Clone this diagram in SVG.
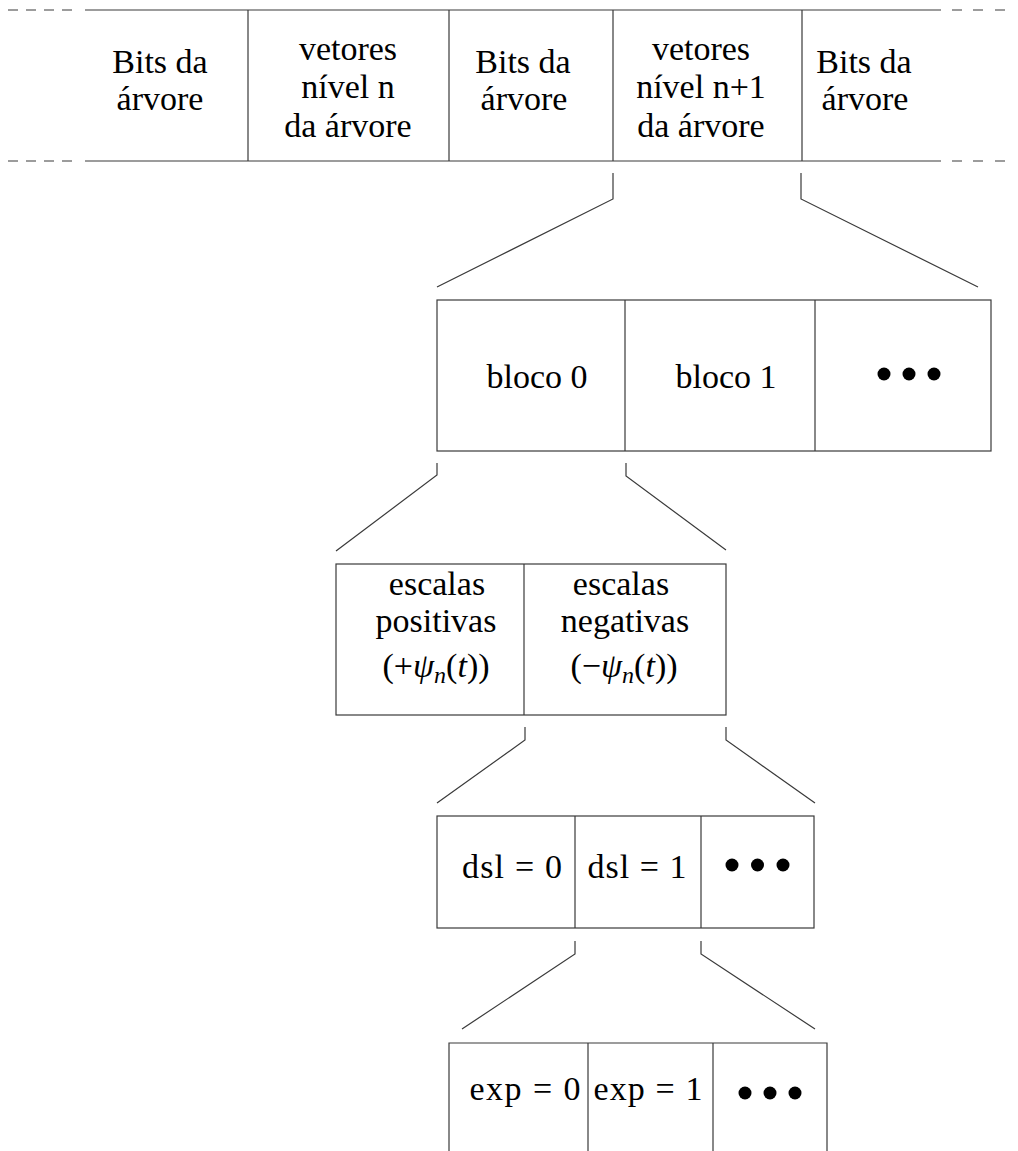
<svg xmlns="http://www.w3.org/2000/svg" width="1018" height="1151" viewBox="0 0 1018 1151">
<style>
.ln{stroke:#3a3a3a;stroke-width:1.2;fill:none}
.bx{stroke:#3a3a3a;stroke-width:1.2;fill:#fff}
.t{font-size:34px;fill:#000;text-anchor:middle}
.i{font-style:italic}
.dot{fill:#000}
</style>
<rect width="1018" height="1151" fill="#fff"/>
<g font-family="Liberation Serif, serif">
<g id="strip">
<path class="ln" d="M85,10H941M85,161H941M248,10V161M449,10V161M613,10V161M802,10V161"/>
<path class="ln" d="M8,10H18M26,10H36M44,10H54M62,10H72M8,161H18M26,161H36M44,161H54M62,161H72"/>
<path class="ln" d="M952,10H962M973,10H983M995,10H1005M952,161H962M973,161H983M995,161H1005"/>
<text class="t" x="160" y="73">Bits da</text>
<text class="t" x="160" y="110">árvore</text>
<text class="t" x="348" y="60">vetores</text>
<text class="t" x="348" y="98">nível n</text>
<text class="t" x="348" y="137">da árvore</text>
<text class="t" x="523" y="73">Bits da</text>
<text class="t" x="524" y="110">árvore</text>
<text class="t" x="701" y="60">vetores</text>
<text class="t" x="701" y="98">nível n+1</text>
<text class="t" x="701" y="137">da árvore</text>
<text class="t" x="864" y="73">Bits da</text>
<text class="t" x="865" y="110">árvore</text>
</g>
<g id="blocos">
<rect class="bx" x="437" y="300" width="554" height="151"/>
<path class="ln" d="M625,300V451M815,300V451"/>
<text class="t" x="537" y="388">bloco 0</text>
<text class="t" x="726" y="388">bloco 1</text>
<circle class="dot" cx="884" cy="374" r="6.5"/>
<circle class="dot" cx="909" cy="374" r="6.5"/>
<circle class="dot" cx="934" cy="374" r="6.5"/>
</g>
<g id="escalas">
<rect class="bx" x="336" y="564" width="390" height="151"/>
<path class="ln" d="M524,564V715"/>
<text class="t" x="437" y="595">escalas</text>
<text class="t" x="436" y="632">positivas</text>
<text class="t" x="436" y="677">(+<tspan class="i">ψ</tspan><tspan class="i" font-size="24" dy="6">n</tspan><tspan dy="-6">(</tspan><tspan class="i">t</tspan>))</text>
<text class="t" x="621" y="595">escalas</text>
<text class="t" x="625" y="632">negativas</text>
<text class="t" x="624" y="677">(−<tspan class="i">ψ</tspan><tspan class="i" font-size="24" dy="6">n</tspan><tspan dy="-6">(</tspan><tspan class="i">t</tspan>))</text>
</g>
<g id="dsl">
<rect class="bx" x="437" y="816" width="377" height="112"/>
<path class="ln" d="M575,816V928M701,816V928"/>
<text class="t" x="512" y="878" textLength="100" lengthAdjust="spacing">dsl = 0</text>
<text class="t" x="637" y="878" textLength="99" lengthAdjust="spacing">dsl = 1</text>
<circle class="dot" cx="732" cy="865" r="6.5"/>
<circle class="dot" cx="757.5" cy="865" r="6.5"/>
<circle class="dot" cx="783" cy="865" r="6.5"/>
</g>
<g id="exp">
<path class="ln" d="M449,1160V1043H827V1160M588,1043V1160M713,1043V1160"/>
<text class="t" x="525" y="1100" textLength="111" lengthAdjust="spacing">exp = 0</text>
<text class="t" x="648" y="1100" textLength="109" lengthAdjust="spacing">exp = 1</text>
<circle class="dot" cx="745" cy="1093" r="6.5"/>
<circle class="dot" cx="770" cy="1093" r="6.5"/>
<circle class="dot" cx="795" cy="1093" r="6.5"/>
</g>
</g>
<g id="connectors">
<path class="ln" d="M613,173V199L437,287"/>
<path class="ln" d="M801,173V199L978,287"/>
<path class="ln" d="M437,463V475L336,551"/>
<path class="ln" d="M626,463V476L726,550"/>
<path class="ln" d="M525,727V740L437,803"/>
<path class="ln" d="M726,727V740L815,803"/>
<path class="ln" d="M575,941V954L462,1029"/>
<path class="ln" d="M701,941V954L815,1029"/>
</g>
</svg>
